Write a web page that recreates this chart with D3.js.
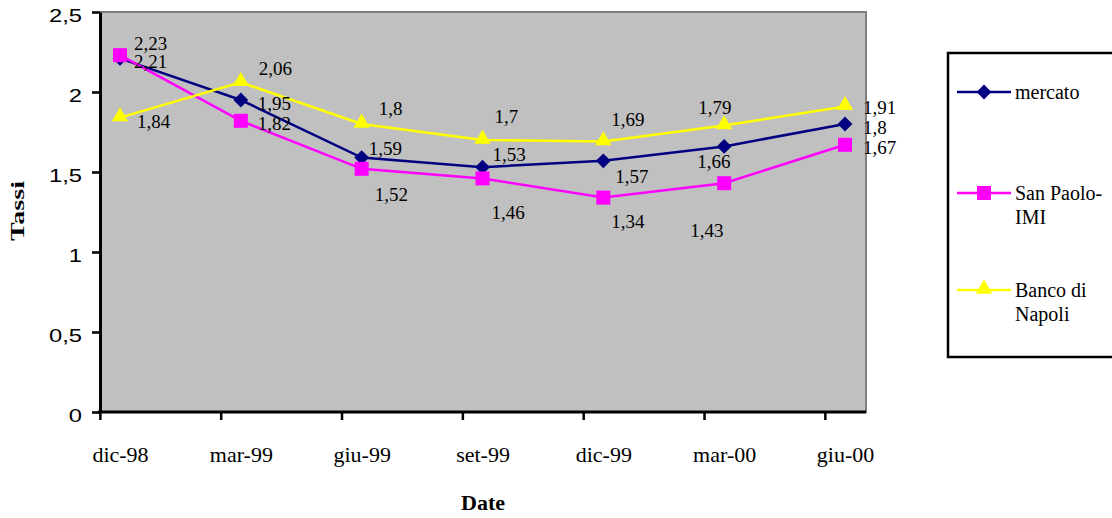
<!DOCTYPE html>
<html>
<head>
<meta charset="utf-8">
<script src="https://cdn.jsdelivr.net/npm/d3@7"></script>
<style>
  body { margin: 0; background: #fff; }
  svg text { font-family: "Liberation Serif", "Times New Roman", serif; }
</style>
</head>
<body>
<div id="canvas"></div>
<script>
// data
var dates = ['dic-98','mar-99','giu-99','set-99','dic-99','mar-00','giu-00'];
var mercato = [2.21, 1.95, 1.59, 1.53, 1.57, 1.66, 1.8];
var sanPaolo = [2.23, 1.82, 1.52, 1.46, 1.34, 1.43, 1.67];
var bancoNapoli = [1.84, 2.06, 1.8, 1.7, 1.69, 1.79, 1.91];
var yTicks = [0, 0.5, 1, 1.5, 2, 2.5];

// label placement (dx, dy from marker) - Excel moved them around to avoid overlap
var labelOffsets = {
  mercato:  [[14,10],[17,10],[7,-3],[10,-6],[12,22],[-27,22],[18,10]],
  sanPaolo: [[14,-5],[17,9],[13,32],[9,41],[8,30],[-34,54],[18,9]],
  banco:    [[17,10],[18,-7],[17,-9],[12,-17],[8,-16],[-26,-12],[18,8]]
};

var series = [
  {name:'mercato', values: mercato, color:'#000080', symbol:'diamond', offs: labelOffsets.mercato},
  {name:'San Paolo-IMI', lines:['San Paolo-','IMI'], values: sanPaolo, color:'#ff00ff', symbol:'square', offs: labelOffsets.sanPaolo},
  {name:'Banco di Napoli', lines:['Banco di','Napoli'], values: bancoNapoli, color:'#ffff00', symbol:'triangle', offs: labelOffsets.banco}
];

var W = 1112, H = 518;
var svg = d3.select('#canvas').append('svg').attr('width', W).attr('height', H);

var x = d3.scalePoint().domain(dates).range([120, 845]);
var y = d3.scaleLinear().domain([0, 2.5]).range([412, 12]);

// plot area
svg.append('rect')
  .attr('x', 100).attr('y', 12).attr('width', 766).attr('height', 400)
  .style('fill', '#c0c0c0').style('stroke', '#808080').style('stroke-width', 2);

var fmt = function(v){ return String(v).replace('.', ','); };

// y axis
var sx = 1.25;
var yAxis = svg.append('g').attr('transform', 'translate(100,0)')
  .call(d3.axisLeft(y).tickValues(yTicks).tickSize(8).tickSizeOuter(0).tickFormat(fmt));
yAxis.select('.domain').style('stroke', '#000').style('stroke-width', 3);
yAxis.selectAll('.tick line').style('stroke', '#000').style('stroke-width', 2.5);
yAxis.selectAll('.tick text')
  .style('font-family', '"Liberation Sans", Arial, sans-serif')
  .style('font-size', '19px').style('fill', '#000')
  .attr('x', -18 / sx).attr('dy', '0.48em')
  .attr('transform', 'scale(' + sx + ',1)');

// x axis
var xAxis = svg.append('g').attr('transform', 'translate(0,412)')
  .call(d3.axisBottom(x).tickSize(8).tickSizeOuter(0));
xAxis.select('.domain').remove();
xAxis.selectAll('.tick line').attr('transform', 'translate(' + (-x.step() / 6) + ',0)')
  .style('stroke', '#000').style('stroke-width', 2.5);
xAxis.selectAll('.tick text')
  .style('font-family', '"Liberation Serif", "Times New Roman", serif')
  .style('font-size', '22px').style('fill', '#000')
  .attr('y', 0).attr('dy', 50);
svg.append('line').attr('x1', 98).attr('x2', 866).attr('y1', 412).attr('y2', 412)
  .style('stroke', '#000').style('stroke-width', 3);

// axis titles
svg.append('text')
  .attr('transform', 'translate(24,211) rotate(-90)')
  .attr('text-anchor', 'middle')
  .attr('textLength', 60).attr('lengthAdjust', 'spacingAndGlyphs')
  .style('font-weight', 'bold').style('font-size', '19px')
  .text('Tassi');
svg.append('text')
  .attr('x', 483).attr('y', 510).attr('text-anchor', 'middle')
  .style('font-weight', 'bold').style('font-size', '22px')
  .text('Date');

function symbolPath(kind){
  if (kind === 'diamond') return d3.symbol().type(d3.symbolSquare).size(110)();
  if (kind === 'square') return d3.symbol().type(d3.symbolSquare).size(196)();
  return d3.symbol().type(d3.symbolTriangle).size(115)();
}
function symbolTransform(kind, px, py){
  if (kind === 'diamond') return 'translate(' + px + ',' + py + ') rotate(45)';
  if (kind === 'triangle') return 'translate(' + px + ',' + (py - 1) + ')';
  return 'translate(' + px + ',' + py + ')';
}

var line = d3.line()
  .x(function(d, i){ return x(dates[i]); })
  .y(function(d){ return y(d); });

// lines first, then markers on top
series.forEach(function(s){
  svg.append('path').datum(s.values)
    .attr('d', line)
    .style('fill', 'none').style('stroke', s.color).style('stroke-width', 2.5);
});
series.forEach(function(s){
  svg.selectAll('.pt-' + s.symbol)
    .data(s.values).enter()
    .append('path').attr('class', 'pt-' + s.symbol)
    .attr('d', symbolPath(s.symbol))
    .attr('transform', function(d, i){ return symbolTransform(s.symbol, x(dates[i]), y(d)); })
    .style('fill', s.color);
});

// data labels
series.forEach(function(s){
  svg.selectAll('.lbl-' + s.symbol)
    .data(s.values).enter()
    .append('text').attr('class', 'lbl-' + s.symbol)
    .attr('x', function(d, i){ return x(dates[i]) + s.offs[i][0]; })
    .attr('y', function(d, i){ return y(d) + s.offs[i][1]; })
    .style('font-size', '19px').style('fill', '#000')
    .text(fmt);
});

// legend
var legend = svg.append('g');
legend.append('rect')
  .attr('x', 948).attr('y', 53).attr('width', 200).attr('height', 304)
  .style('fill', '#fff').style('stroke', '#000').style('stroke-width', 2.5);

var legendY = [92, 193, 290];
series.forEach(function(s, i){
  var ly = legendY[i];
  legend.append('line').attr('x1', 957).attr('x2', 1011).attr('y1', ly).attr('y2', ly)
    .style('stroke', s.color).style('stroke-width', 2.5);
  legend.append('path').attr('d', symbolPath(s.symbol))
    .attr('transform', symbolTransform(s.symbol, 984, ly))
    .style('fill', s.color);
  var lines = s.lines || [s.name];
  lines.forEach(function(t, j){
    legend.append('text').attr('x', 1015).attr('y', ly + 7 + j * 24)
      .style('font-size', '20px').style('fill', '#000').text(t);
  });
});
</script>
</body>
</html>
